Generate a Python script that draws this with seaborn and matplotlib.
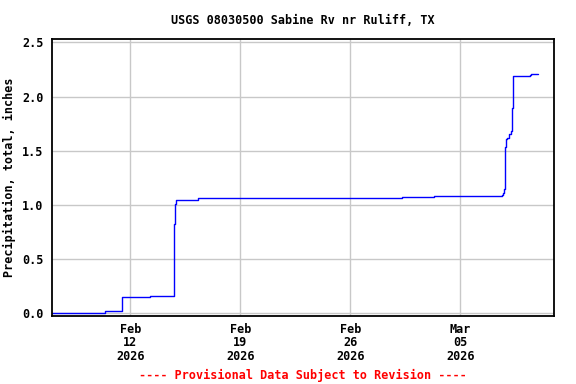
import matplotlib
matplotlib.use("Agg")
import matplotlib.pyplot as plt
import matplotlib.dates as mdates
import numpy as np
import pandas as pd
import seaborn as sns

# ---- data ----
times = [
    "2026-02-07 00:00", "2026-02-10 09:00", "2026-02-11 12:00", "2026-02-13 06:00",
    "2026-02-14 19:00", "2026-02-14 20:40", "2026-02-14 22:15", "2026-02-16 08:00",
    "2026-03-01 06:30", "2026-03-03 08:20", "2026-03-07 16:10", "2026-03-07 17:40",
    "2026-03-07 19:10", "2026-03-07 20:40", "2026-03-07 22:20", "2026-03-07 23:50",
    "2026-03-08 02:50", "2026-03-08 06:00", "2026-03-08 07:30", "2026-03-08 09:00",
    "2026-03-09 11:00", "2026-03-09 12:30", "2026-03-09 22:15",
]
precip = [
    0.00, 0.02, 0.15, 0.16,
    0.82, 1.01, 1.05, 1.06,
    1.07, 1.08, 1.09, 1.11,
    1.15, 1.53, 1.61, 1.62,
    1.65, 1.68, 1.89, 2.19,
    2.20, 2.21, 2.21,
]
tick_dates = ["2026-02-12", "2026-02-19", "2026-02-26", "2026-03-05"]
y_ticks = [0.0, 0.5, 1.0, 1.5, 2.0, 2.5]
title = "USGS 08030500 Sabine Rv nr Ruliff, TX"
ylabel = "Precipitation, total, inches"
footer = "---- Provisional Data Subject to Revision ----"

df = pd.DataFrame({"time": pd.to_datetime(times), "precip": precip})

sns.set_style("white")
plt.rcParams["font.family"] = ["DejaVu Sans Mono"]
plt.rcParams["font.weight"] = "bold"
plt.rcParams["text.color"] = "black"
plt.rcParams["axes.labelcolor"] = "black"
plt.rcParams["xtick.color"] = "black"
plt.rcParams["ytick.color"] = "black"

fig = plt.figure(figsize=(5.76, 3.84), dpi=100)
W, H = 576, 384
left, right, top, bottom = 51.7, 554, 39.3, 315.7
ax = fig.add_axes([left / W, 1 - bottom / H, (right - left) / W, (bottom - top) / H])

sns.lineplot(data=df, x="time", y="precip", ax=ax, color="#0000ff",
             linewidth=1.0, drawstyle="steps-post", estimator=None)

ax.set_xlim(pd.Timestamp("2026-02-07 00:00"), pd.Timestamp("2026-03-10 23:00"))
ax.set_ylim(-0.022, 2.528)
ax.set_yticks(y_ticks)
ax.set_yticklabels([f"{v:.1f}" for v in y_ticks])
ax.set_xticks(pd.to_datetime(tick_dates))
ax.xaxis.set_major_formatter(mdates.DateFormatter("%b\n%d\n%Y"))

ax.grid(True, color="#c8c8c8", linewidth=1.0)
ax.set_axisbelow(True)
for s in ax.spines.values():
    s.set_color("black")
    s.set_linewidth(1.3)

ax.tick_params(axis="both", length=0, labelsize=8.5, labelcolor="black")
ax.tick_params(axis="y", pad=6)
ax.tick_params(axis="x", pad=5)
for lab in ax.get_xticklabels():
    lab.set_linespacing(1.05)
    lab.set_fontweight("bold")
for lab in ax.get_yticklabels():
    lab.set_fontweight("bold")

ax.set_xlabel("")
ax.set_ylabel(ylabel, fontsize=8.5, fontweight="bold", labelpad=4, color="black")

fig.text((left + right) / 2 / W, 1 - 20 / H, title, ha="center", va="center",
         fontsize=8.5, fontweight="bold", color="black")
fig.text((left + right) / 2 / W, 1 - 375 / H, footer, ha="center", va="center",
         fontsize=8.5, fontweight="bold", color="red")

fig.savefig("out.png", dpi=100)
